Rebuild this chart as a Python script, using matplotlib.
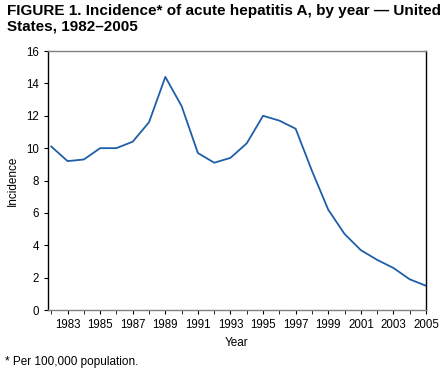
import matplotlib
matplotlib.use("Agg")
import matplotlib.pyplot as plt

plt.rcParams['font.family'] = ['Liberation Sans', 'DejaVu Sans']

years = list(range(1982, 2006))
incidence = [10.1, 9.2, 9.3, 10.0, 10.0, 10.4, 11.6, 14.4, 12.6, 9.7, 9.1, 9.4,
             10.3, 12.0, 11.7, 11.2, 8.6, 6.2, 4.7, 3.7, 3.1, 2.6, 1.9, 1.5]
tick_years = list(range(1983, 2006, 2))
yticks = [0, 2, 4, 6, 8, 10, 12, 14, 16]

fig = plt.figure(figsize=(4.47, 3.74), dpi=100)
ax = fig.add_axes([0.1074, 0.171, 0.953 - 0.1074, 0.8636 - 0.171])
ax.plot(years, incidence, color='#1f5fa8', lw=1.3)
ax.set_xlim(1981.8, 2005)
ax.set_ylim(0, 16)
ax.set_yticks(yticks)
ax.set_xticks(tick_years)
ax.set_xticks(years, minor=True)
ax.tick_params(axis='both', labelsize=8.3, length=3, direction='out', color='black')
ax.tick_params(axis='x', which='minor', length=3)
ax.spines['top'].set_color('#808080')
ax.spines['bottom'].set_color('#808080')
ax.spines['left'].set_color('black')
ax.spines['right'].set_color('black')
for s in ax.spines.values():
    s.set_linewidth(1.0)
ax.set_xlabel('Year', fontsize=8.5, va='center')
ax.xaxis.set_label_coords(0.5, -0.127)
ax.set_ylabel('Incidence', fontsize=8.5, va='center', ha='center')
ax.yaxis.set_label_coords(-0.093, 0.5)

fig.text(0.015, 0.988, 'FIGURE 1. Incidence* of acute hepatitis A, by year \u2014 United\nStates, 1982\u20132005',
         fontsize=11.0, fontweight='bold', va='top', ha='left', linespacing=1.1)
fig.text(0.012, 0.033, '* Per 100,000 population.', fontsize=8.5, va='center', ha='left')

fig.savefig('out.png', dpi=100)
